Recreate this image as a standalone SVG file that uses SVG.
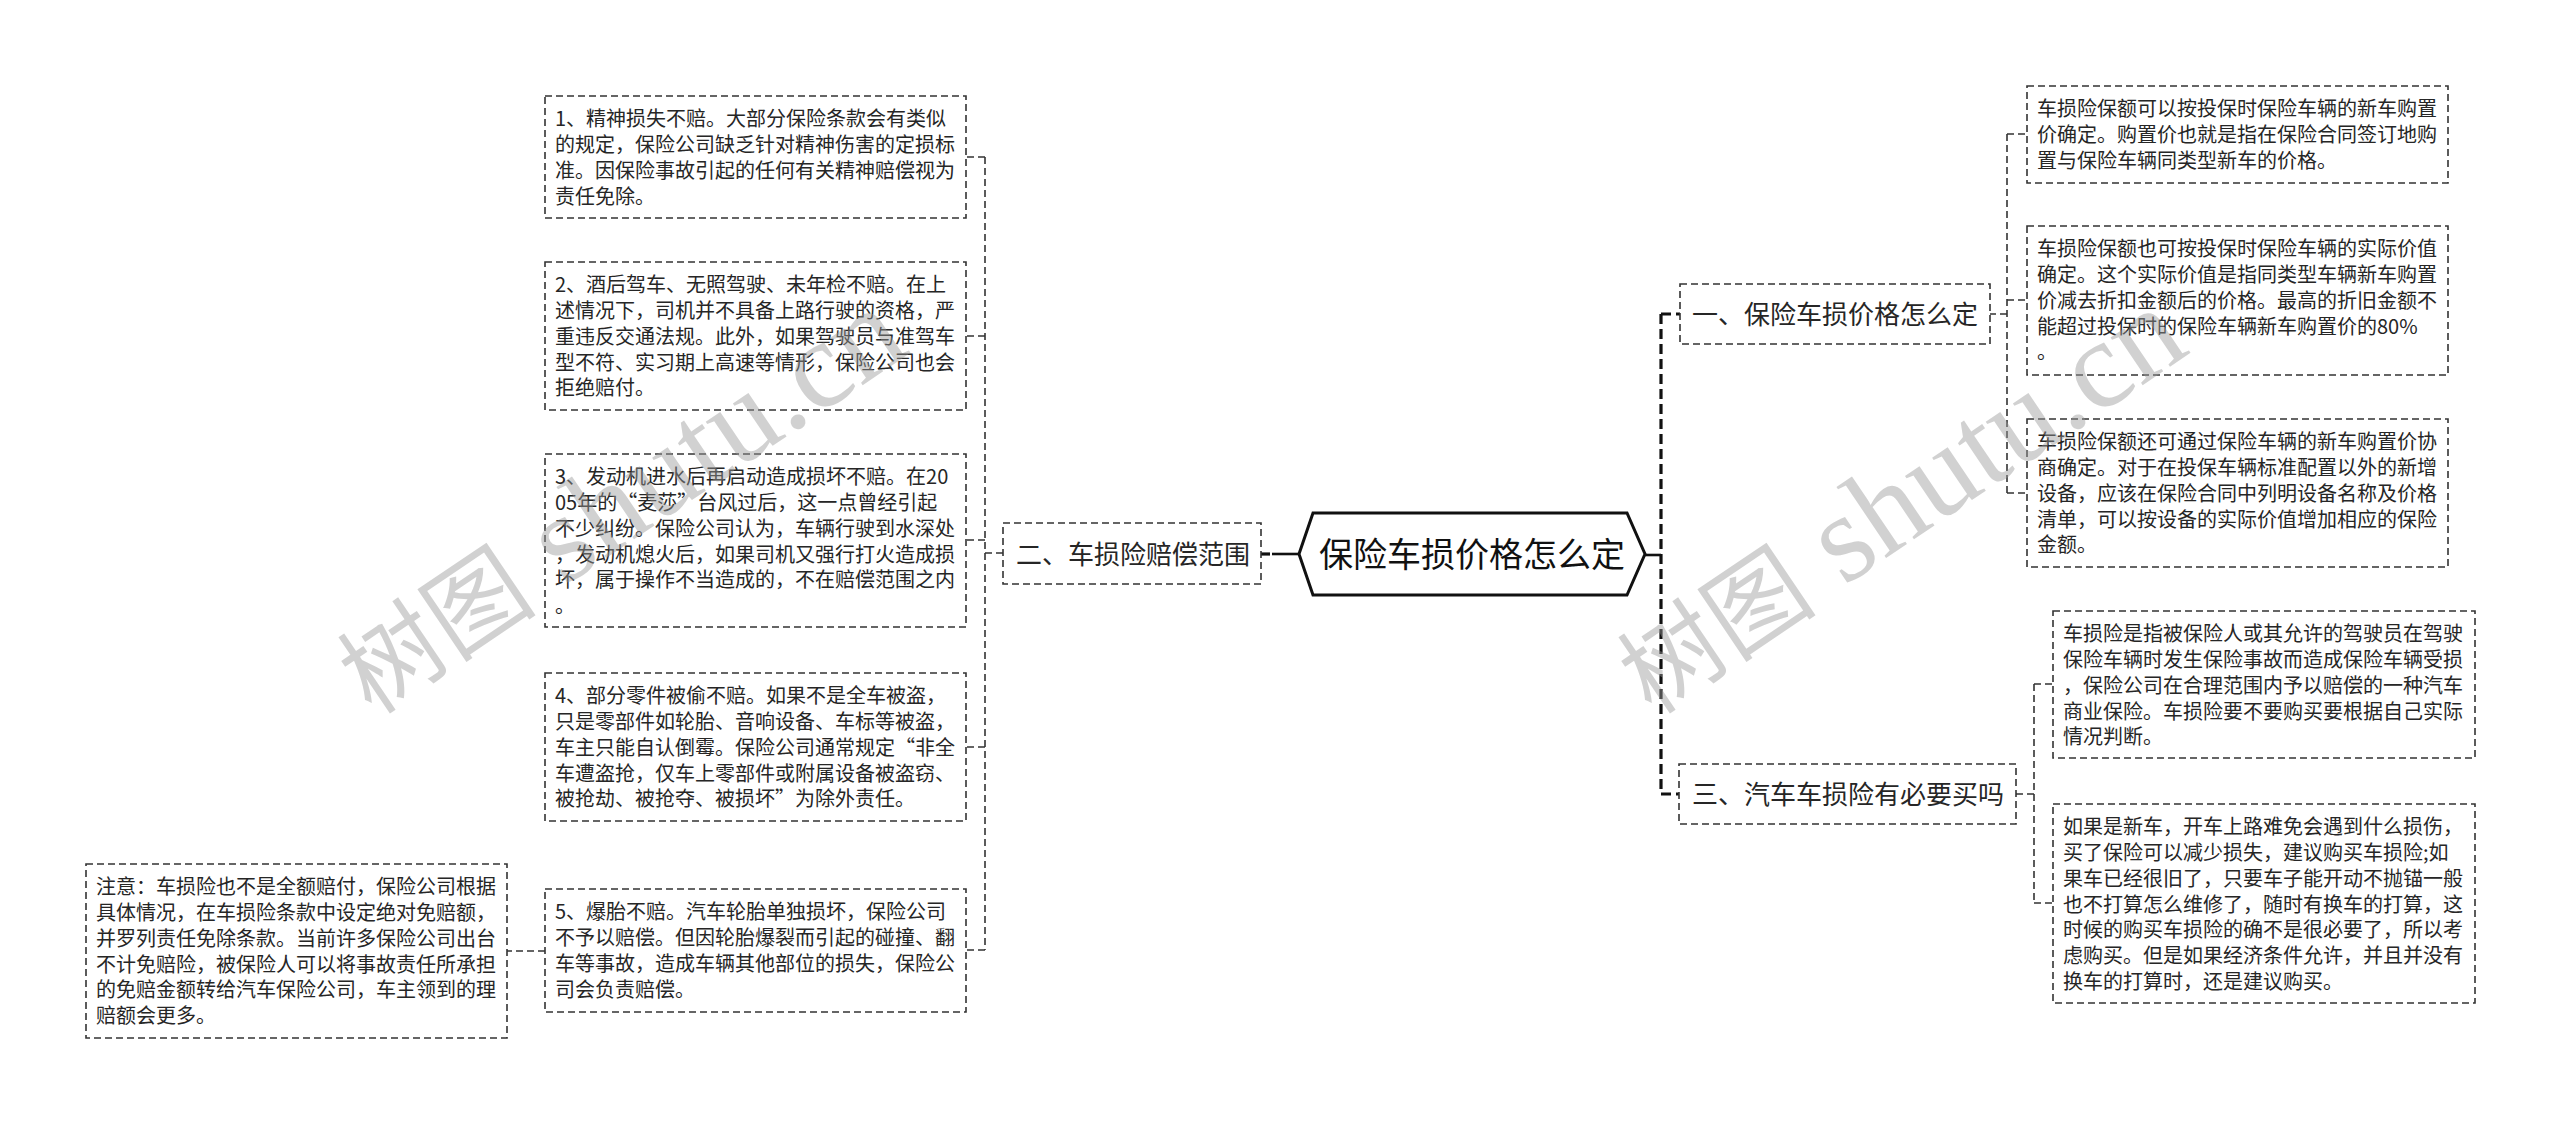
<svg xmlns="http://www.w3.org/2000/svg" width="2560" height="1125" viewBox="0 0 2560 1125">
<style>
.box{fill:#fff;stroke:#333;stroke-width:1.6;stroke-dasharray:7 4}
.lt{font-family:"Noto Sans CJK SC","Microsoft YaHei",sans-serif;font-size:20px;fill:#262626}
.l1{font-family:"Noto Sans CJK SC","Microsoft YaHei",sans-serif;font-size:26px;fill:#262626}
.root{font-family:"Noto Sans CJK SC","Microsoft YaHei",sans-serif;font-size:34px;fill:#111}
.thin{fill:none;stroke:#333;stroke-width:1.6;stroke-dasharray:7 4}
.thick{fill:none;stroke:#111;stroke-width:3.2;stroke-dasharray:10 5}
.solid{fill:none;stroke:#111;stroke-width:2.6}
.wm{font-family:"Liberation Serif","Noto Sans CJK SC",serif;fill:#999;fill-opacity:0.45}
</style>
<rect width="2560" height="1125" fill="#fff"/>
<g id="connectors">
<path class="solid" d="M1299 554 H1272"/>
<path class="thick" d="M1270 554 H1261"/>
<path class="solid" d="M1645 555 H1661"/>
<path class="thick" d="M1661 314 V794"/>
<path class="thick" d="M1661 314 H1680 M1661 794 H1679"/>
<path class="thin" d="M1003 553 H985 M985 157 V950 M985 157 H966 M985 336 H966 M985 540 H966 M985 747 H966 M985 950 H966"/>
<path class="thin" d="M545 951 H507"/>
<path class="thin" d="M1989 314 H2007 M2007 134 V493 M2007 134 H2027 M2007 300 H2027 M2007 493 H2027"/>
<path class="thin" d="M2016 794 H2034 M2034 684 V903 M2034 684 H2053 M2034 903 H2053"/>
</g>
<g id="root">
<polygon points="1299,554 1313,513 1627,513 1645,554 1627,595 1313,595" fill="#fff" stroke="#111" stroke-width="3"/>
<text class="root" x="1472" y="567" text-anchor="middle">保险车损价格怎么定</text>
</g>
<g id="n-er">
<rect class="box" x="1003" y="523" width="258" height="61"/>
<text class="l1" x="1016" y="563.5">二、车损险赔偿范围</text>
</g>
<g id="n-yi">
<rect class="box" x="1680" y="284" width="310" height="60"/>
<text class="l1" x="1692" y="324">一、保险车损价格怎么定</text>
</g>
<g id="n-san">
<rect class="box" x="1679" y="764" width="337" height="60"/>
<text class="l1" x="1692" y="804">三、汽车车损险有必要买吗</text>
</g>
<g id="n-l1">
<rect class="box" x="545" y="96" width="421" height="122"/>
<text class="lt" x="555" y="126.4"><tspan x="555">1、精神损失不赔。大部分保险条款会有类似</tspan><tspan x="555" dy="25.7">的规定，保险公司缺乏针对精神伤害的定损标</tspan><tspan x="555" dy="25.7">准。因保险事故引起的任何有关精神赔偿视为</tspan><tspan x="555" dy="25.7">责任免除。</tspan></text>
</g>
<g id="n-l2">
<rect class="box" x="545" y="262" width="421" height="148"/>
<text class="lt" x="555" y="292.4"><tspan x="555">2、酒后驾车、无照驾驶、未年检不赔。在上</tspan><tspan x="555" dy="25.7">述情况下，司机并不具备上路行驶的资格，严</tspan><tspan x="555" dy="25.7">重违反交通法规。此外，如果驾驶员与准驾车</tspan><tspan x="555" dy="25.7">型不符、实习期上高速等情形，保险公司也会</tspan><tspan x="555" dy="25.7">拒绝赔付。</tspan></text>
</g>
<g id="n-l3">
<rect class="box" x="545" y="454" width="421" height="173"/>
<text class="lt" x="555" y="484.4"><tspan x="555">3、发动机进水后再启动造成损坏不赔。在20</tspan><tspan x="555" dy="25.7">05年的“麦莎”台风过后，这一点曾经引起</tspan><tspan x="555" dy="25.7">不少纠纷。保险公司认为，车辆行驶到水深处</tspan><tspan x="555" dy="25.7">，发动机熄火后，如果司机又强行打火造成损</tspan><tspan x="555" dy="25.7">坏，属于操作不当造成的，不在赔偿范围之内</tspan><tspan x="555" dy="25.7">。</tspan></text>
</g>
<g id="n-l4">
<rect class="box" x="545" y="673" width="421" height="148"/>
<text class="lt" x="555" y="703.4"><tspan x="555">4、部分零件被偷不赔。如果不是全车被盗，</tspan><tspan x="555" dy="25.7">只是零部件如轮胎、音响设备、车标等被盗，</tspan><tspan x="555" dy="25.7">车主只能自认倒霉。保险公司通常规定“非全</tspan><tspan x="555" dy="25.7">车遭盗抢，仅车上零部件或附属设备被盗窃、</tspan><tspan x="555" dy="25.7">被抢劫、被抢夺、被损坏”为除外责任。</tspan></text>
</g>
<g id="n-l5">
<rect class="box" x="545" y="889" width="421" height="123"/>
<text class="lt" x="555" y="919.4"><tspan x="555">5、爆胎不赔。汽车轮胎单独损坏，保险公司</tspan><tspan x="555" dy="25.7">不予以赔偿。但因轮胎爆裂而引起的碰撞、翻</tspan><tspan x="555" dy="25.7">车等事故，造成车辆其他部位的损失，保险公</tspan><tspan x="555" dy="25.7">司会负责赔偿。</tspan></text>
</g>
<g id="n-note">
<rect class="box" x="86" y="864" width="421" height="174"/>
<text class="lt" x="96" y="894.4"><tspan x="96">注意：车损险也不是全额赔付，保险公司根据</tspan><tspan x="96" dy="25.7">具体情况，在车损险条款中设定绝对免赔额，</tspan><tspan x="96" dy="25.7">并罗列责任免除条款。当前许多保险公司出台</tspan><tspan x="96" dy="25.7">不计免赔险，被保险人可以将事故责任所承担</tspan><tspan x="96" dy="25.7">的免赔金额转给汽车保险公司，车主领到的理</tspan><tspan x="96" dy="25.7">赔额会更多。</tspan></text>
</g>
<g id="n-r1">
<rect class="box" x="2027" y="86" width="421" height="97"/>
<text class="lt" x="2037" y="116.4"><tspan x="2037">车损险保额可以按投保时保险车辆的新车购置</tspan><tspan x="2037" dy="25.7">价确定。购置价也就是指在保险合同签订地购</tspan><tspan x="2037" dy="25.7">置与保险车辆同类型新车的价格。</tspan></text>
</g>
<g id="n-r2">
<rect class="box" x="2027" y="226" width="421" height="149"/>
<text class="lt" x="2037" y="256.4"><tspan x="2037">车损险保额也可按投保时保险车辆的实际价值</tspan><tspan x="2037" dy="25.7">确定。这个实际价值是指同类型车辆新车购置</tspan><tspan x="2037" dy="25.7">价减去折扣金额后的价格。最高的折旧金额不</tspan><tspan x="2037" dy="25.7">能超过投保时的保险车辆新车购置价的80%</tspan><tspan x="2037" dy="25.7">。</tspan></text>
</g>
<g id="n-r3">
<rect class="box" x="2027" y="419" width="421" height="148"/>
<text class="lt" x="2037" y="449.4"><tspan x="2037">车损险保额还可通过保险车辆的新车购置价协</tspan><tspan x="2037" dy="25.7">商确定。对于在投保车辆标准配置以外的新增</tspan><tspan x="2037" dy="25.7">设备，应该在保险合同中列明设备名称及价格</tspan><tspan x="2037" dy="25.7">清单，可以按设备的实际价值增加相应的保险</tspan><tspan x="2037" dy="25.7">金额。</tspan></text>
</g>
<g id="n-r4">
<rect class="box" x="2053" y="611" width="422" height="147"/>
<text class="lt" x="2063" y="641.4"><tspan x="2063">车损险是指被保险人或其允许的驾驶员在驾驶</tspan><tspan x="2063" dy="25.7">保险车辆时发生保险事故而造成保险车辆受损</tspan><tspan x="2063" dy="25.7">，保险公司在合理范围内予以赔偿的一种汽车</tspan><tspan x="2063" dy="25.7">商业保险。车损险要不要购买要根据自己实际</tspan><tspan x="2063" dy="25.7">情况判断。</tspan></text>
</g>
<g id="n-r5">
<rect class="box" x="2053" y="804" width="422" height="199"/>
<text class="lt" x="2063" y="834.4"><tspan x="2063">如果是新车，开车上路难免会遇到什么损伤，</tspan><tspan x="2063" dy="25.7">买了保险可以减少损失，建议购买车损险;如</tspan><tspan x="2063" dy="25.7">果车已经很旧了，只要车子能开动不抛锚一般</tspan><tspan x="2063" dy="25.7">也不打算怎么维修了，随时有换车的打算，这</tspan><tspan x="2063" dy="25.7">时候的购买车损险的确不是很必要了，所以考</tspan><tspan x="2063" dy="25.7">虑购买。但是如果经济条件允许，并且并没有</tspan><tspan x="2063" dy="25.7">换车的打算时，还是建议购买。</tspan></text>
</g>
<g id="watermarks">
<text class="wm" transform="translate(372,716) rotate(-34)"><tspan font-size="100">树图</tspan><tspan font-size="125"> shutu.cn</tspan></text>
<text class="wm" transform="translate(1652,716) rotate(-34)"><tspan font-size="100">树图</tspan><tspan font-size="125"> shutu.cn</tspan></text>
</g>
</svg>
